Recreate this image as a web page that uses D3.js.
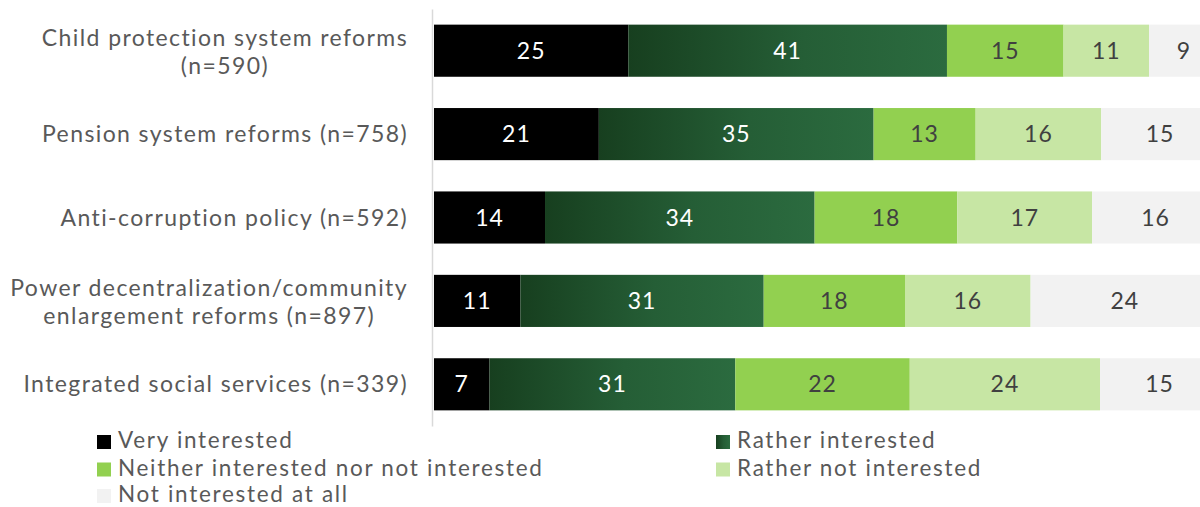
<!DOCTYPE html>
<html>
<head>
<meta charset="utf-8">
<script src="https://cdn.jsdelivr.net/npm/d3@7"></script>
<style>
  html, body { margin: 0; padding: 0; background: #fff; }
  svg { display: block; font-family: "Lato", "Open Sans", sans-serif; }
</style>
</head>
<body>
<svg id="chart" width="1200" height="507"></svg>
<script>
// ---- data ----
const categories = [
  ["Child protection system reforms", "(n=590)"],
  ["Pension system reforms (n=758)"],
  ["Anti-corruption policy (n=592)"],
  ["Power decentralization/community", "enlargement reforms (n=897)"],
  ["Integrated social services (n=339)"]
];
const seriesNames = [
  "Very interested",
  "Rather interested",
  "Neither interested nor not interested",
  "Rather not interested",
  "Not interested at all"
];
const veryInterested    = [25, 21, 14, 11, 7];
const ratherInterested  = [41, 35, 34, 31, 31];
const neither           = [15, 13, 18, 18, 22];
const ratherNot         = [11, 16, 17, 16, 24];
const notAtAll          = [9, 15, 16, 24, 15];

const seriesValues = [veryInterested, ratherInterested, neither, ratherNot, notAtAll];
const colors = ["#000000", "url(#gradRather)", "#92d050", "#c7e6a4", "#f2f2f2"];
const labelColors = ["#ffffff", "#ffffff", "#404040", "#404040", "#404040"];

// ---- build table ----
const rows = categories.map((c, i) => {
  const r = { key: i };
  seriesNames.forEach((s, j) => r[s] = seriesValues[j][i]);
  return r;
});
const stacked = d3.stack().keys(seriesNames).offset(d3.stackOffsetExpand)(rows);

const svg = d3.select("#chart");
const defs = svg.append("defs");
const grad = defs.append("linearGradient").attr("id", "gradRather")
  .attr("x1", "0%").attr("x2", "100%").attr("y1", "0%").attr("y2", "0%");
grad.append("stop").attr("offset", "0%").attr("stop-color", "#173f1f");
grad.append("stop").attr("offset", "55%").attr("stop-color", "#255e36");
grad.append("stop").attr("offset", "100%").attr("stop-color", "#2b6b3f");

const x = d3.scaleLinear().domain([0, 1]).range([434, 1219]);
const y = d3.scaleBand().domain(d3.range(categories.length)).range([9, 426])
  .paddingInner(0.375).paddingOuter(0.1875);

// bars
const layers = svg.append("g").selectAll("g").data(stacked).join("g")
  .attr("fill", (d, i) => colors[i]);
layers.selectAll("rect").data(d => d).join("rect")
  .attr("x", d => x(d[0]))
  .attr("width", d => x(d[1]) - x(d[0]))
  .attr("y", (d, i) => y(i))
  .attr("height", y.bandwidth());

// value labels
const lab = svg.append("g").attr("font-size", 23).attr("text-anchor", "middle")
  .attr("letter-spacing", 1);
stacked.forEach((layer, si) => {
  lab.selectAll(null).data(layer).join("text")
    .attr("x", d => (x(d[0]) + x(d[1])) / 2)
    .attr("y", (d, i) => y(i) + y.bandwidth() / 2 + 8)
    .attr("fill", labelColors[si])
    .text((d, i) => seriesValues[si][i]);
});

// axis line
const axis = d3.axisLeft(y).tickSize(0).tickFormat("");
const axG = svg.append("g").attr("transform", "translate(432,0)").call(axis);
axG.select(".domain").attr("stroke", "#d9d9d9").attr("stroke-width", 1.5);

// category labels
const catG = svg.append("g").attr("font-size", 23).attr("fill", "#595959")
  .attr("letter-spacing", 1.4);
categories.forEach((lines, i) => {
  const cy = y(i) + y.bandwidth() / 2;
  const t = catG.append("text").attr("text-anchor", "end");
  const base = lines.length === 1 ? cy + 8 : cy - 5;
  const spans = lines.map((ln, k) => t.append("tspan").attr("x", 408).attr("y", base + k * 28).text(ln));
  const widths = spans.map(s => s.node().getComputedTextLength());
  const maxW = d3.max(widths);
  spans.forEach((s, k) => s.attr("x", 408 - (maxW - widths[k]) / 2));
});

// legend
const legendPos = [[97, 448], [716, 448], [97, 475.5], [716, 475.5], [97, 502]];
const leg = svg.append("g").attr("font-size", 22.5).attr("fill", "#595959")
  .attr("letter-spacing", 1.7);
seriesNames.forEach((s, i) => {
  const [lx, by] = legendPos[i];
  leg.append("rect").attr("x", lx).attr("y", by - 13).attr("width", 14).attr("height", 14).attr("fill", colors[i]);
  leg.append("text").attr("x", lx + 21).attr("y", by).text(s);
});
</script>
</body>
</html>
